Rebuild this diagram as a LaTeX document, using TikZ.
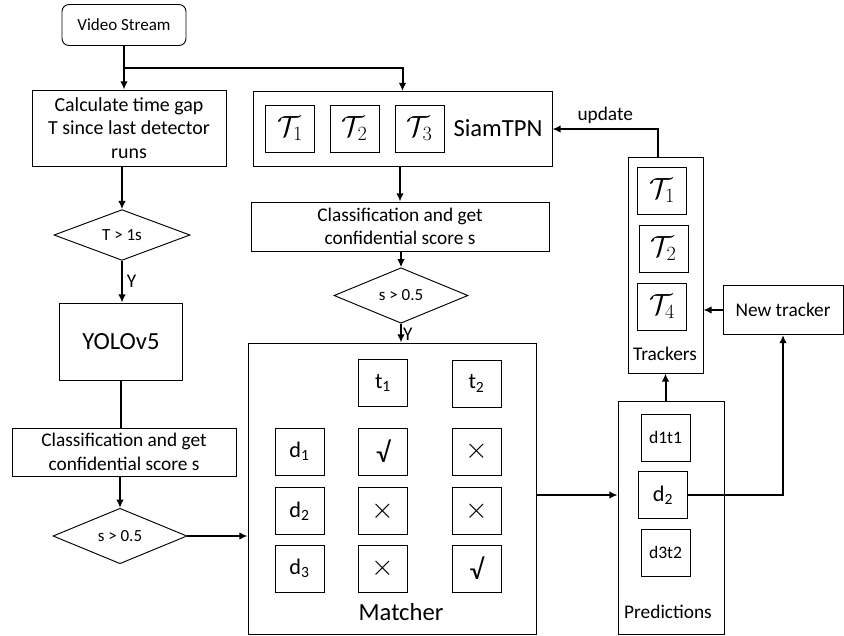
\documentclass[tikz,border=0pt]{standalone}
\usepackage{fontspec}
\setmainfont{Carlito}
\usetikzlibrary{shapes.geometric,positioning,arrows.meta,calc}

\newcommand{\fsz}[2]{\fontsize{#1}{#2}\selectfont}

\begin{document}
\begin{tikzpicture}
    [x=0.03cm, y=-0.03cm, >={Latex[length=7pt,width=6.5pt]},
     box/.style={draw, line width=0.8pt, align=center, inner sep=1pt},
     cell/.style={box, minimum width=1.47cm, minimum height=1.41cm, font=\fsz{19}{22}},
     mcell/.style={cell, font=\fsz{24}{28}},
     test/.style={draw, diamond, line width=0.8pt, inner sep=0pt, font=\fsz{14.5}{17}},
     flow/.style={->, line width=1.7pt},
     label/.style={font=\fsz{16.5}{19}}]

    \useasboundingbox (0,0) rectangle (844,635);

    % detector branch
    \node[box, rounded corners=6pt, minimum width=3.72cm, minimum height=1.23cm, font=\fsz{14.5}{17}] (video) at (124,25) {Video Stream};
    \node[box, minimum width=5.82cm, minimum height=2.28cm, font=\fsz{17}{20}] (gap) at (129,128) {Calculate time gap\\T since last detector\\runs};
    \node[test, minimum width=4.08cm, minimum height=1.44cm] (tgate) at (122,235) {T > 1s};
    \node[box, minimum width=3.69cm, minimum height=2.31cm, font=\fsz{21}{25}] (yolo) at (121,341.5) {YOLOv5};
    \node[box, minimum width=6.72cm, minimum height=1.44cm, font=\fsz{16.5}{20}] (cls1) at (124,452) {Classification and get\\confidential score s};
    \node[test, minimum width=4.02cm, minimum height=1.38cm] (sgate1) at (120,536) {s > 0.5};

    % tracker branch
    \node[box, minimum width=8.97cm, minimum height=2.25cm] (siam) at (402.5,129) {};
    \node[mcell] (s1) at (290,128.5) {$\mathcal{T}_1$};
    \node[mcell] (s2) at (354.5,128.5) {$\mathcal{T}_2$};
    \node[mcell] (s3) at (419.5,128.5) {$\mathcal{T}_3$};
    \node[font=\fsz{21}{25}] (siamlabel) at (498,128) {SiamTPN};
    \node[box, minimum width=8.94cm, minimum height=1.47cm, font=\fsz{16.5}{20}] (cls2) at (400,226.5) {Classification and get\\confidential score s};
    \node[test, minimum width=4.02cm, minimum height=1.35cm] (sgate2) at (401,295.5) {s > 0.5};

    % matcher
    \node[box, minimum width=8.64cm, minimum height=8.73cm] (matcher) at (392,488.5) {};
    \node[cell] (t1) at (383,383) {t\textsubscript{1}};
    \node[cell] (t2) at (476.5,383.5) {t\textsubscript{2}};
    \node[cell] (d1) at (299.5,451.5) {d\textsubscript{1}};
    \node[mcell] (m11) at (383,451.5) {√};
    \node[mcell] (m12) at (476.5,451.5) {$\times$};
    \node[cell] (d2) at (299.5,511) {d\textsubscript{2}};
    \node[mcell] (m21) at (383,511) {$\times$};
    \node[mcell] (m22) at (476.5,511) {$\times$};
    \node[cell] (d3) at (299.5,568.5) {d\textsubscript{3}};
    \node[mcell] (m31) at (383,568.5) {$\times$};
    \node[mcell] (m32) at (476.5,568.5) {√};
    \node[font=\fsz{21}{25}] (mlabel) at (401,612) {Matcher};

    % predictions
    \node[box, minimum width=3.18cm, minimum height=6.99cm] (pred) at (671,517.5) {};
    \node[cell, font=\fsz{15}{17}] (p1) at (665.5,437.5) {d1t1};
    \node[cell] (p2) at (663,495) {d\textsubscript{2}};
    \node[cell, font=\fsz{15}{17}] (p3) at (665.5,552.5) {d3t2};
    \node[label] (plabel) at (668,612) {Predictions};

    % trackers
    \node[box, minimum width=2.25cm, minimum height=6.48cm] (trk) at (665.5,265) {};
    \node[mcell] (k1) at (662,190.5) {$\mathcal{T}_1$};
    \node[mcell] (k2) at (663.5,248.5) {$\mathcal{T}_2$};
    \node[mcell] (k4) at (662,306.5) {$\mathcal{T}_4$};
    \node[label] (klabel) at (665,354) {Trackers};
    \node[box, minimum width=3.6cm, minimum height=1.47cm, font=\fsz{16.5}{19}] (newt) at (783,310) {New tracker};

    % connectors
    \coordinate (split) at (124,68);
    \draw[flow] (video.south) -- (video.south |- gap.north);
    \draw[flow] (split) -| (siam.north);
    \draw[flow] (tgate.north |- gap.south) -- (tgate.north);
    \draw[flow] (tgate.south) -- (tgate.south |- yolo.north) node[midway, right, label] {Y};
    \draw[line width=1.7pt] (yolo.south) -- (yolo.south |- cls1.north);
    \draw[flow] (sgate1.north |- cls1.south) -- (sgate1.north);
    \draw[flow] (sgate1.east) -- (sgate1.east -| matcher.west);

    \draw[flow] (cls2.north |- siam.south) -- (cls2.north);
    \draw[flow] (sgate2.north |- cls2.south) -- (sgate2.north);
    \draw[flow] (sgate2.south) -- (sgate2.south |- matcher.north) node[pos=1, anchor=south west, inner sep=1pt, label] {Y};

    \draw[flow] (matcher.east |- p2) -- (pred.west |- p2);
    \draw[flow] (p2.east) -| (newt.south);
    \draw[flow] (trk.south |- pred.north) -- (trk.south);
    \draw[flow] (newt.west) -- (newt.west -| trk.east);
    \draw[flow] ([xshift=-0.225cm]trk.north) |- (siam.east) node[pos=0.75, above, label] {update};

\end{tikzpicture}
\end{document}
